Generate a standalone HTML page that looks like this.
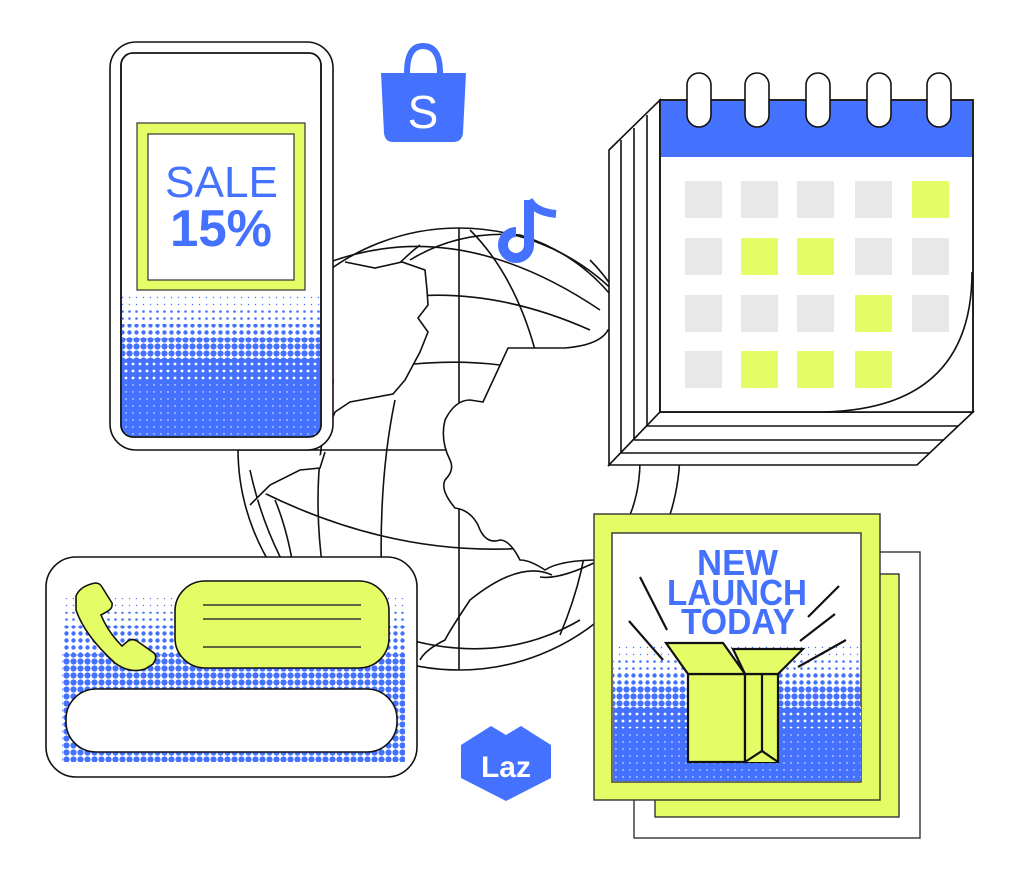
<!DOCTYPE html>
<html><head><meta charset="utf-8"><style>
html,body{margin:0;padding:0;background:#fff;width:1020px;height:880px;overflow:hidden}
svg{display:block}
text{font-family:"Liberation Sans",sans-serif;font-weight:bold;fill:#4472FF}
</style></head><body>
<svg width="1020" height="880" viewBox="0 0 1020 880" xmlns="http://www.w3.org/2000/svg">
<defs>
<pattern id="d1" width="7" height="7" patternUnits="userSpaceOnUse"><circle cx="3.5" cy="3.5" r="0.7" fill="#4472FF"/></pattern>
<pattern id="d2" width="7" height="7" patternUnits="userSpaceOnUse"><circle cx="3.5" cy="3.5" r="1.3" fill="#4472FF"/></pattern>
<pattern id="d3" width="7" height="7" patternUnits="userSpaceOnUse"><circle cx="3.5" cy="3.5" r="2.2" fill="#4472FF"/></pattern>
<pattern id="d4" width="7" height="7" patternUnits="userSpaceOnUse"><circle cx="3.5" cy="3.5" r="3.1" fill="#4472FF"/></pattern>
<pattern id="d5" width="7" height="7" patternUnits="userSpaceOnUse"><rect width="7" height="7" fill="#4472FF"/><circle cx="0" cy="0" r="1.4" fill="#fff"/><circle cx="7" cy="0" r="1.4" fill="#fff"/><circle cx="0" cy="7" r="1.4" fill="#fff"/><circle cx="7" cy="7" r="1.4" fill="#fff"/></pattern>
<pattern id="d6" width="7" height="7" patternUnits="userSpaceOnUse"><rect width="7" height="7" fill="#4472FF"/><circle cx="0" cy="0" r="0.7" fill="#fff"/><circle cx="7" cy="7" r="0.7" fill="#fff"/><circle cx="7" cy="0" r="0.7" fill="#fff"/><circle cx="0" cy="7" r="0.7" fill="#fff"/></pattern>
<clipPath id="phoneClip"><rect x="121" y="53" width="200" height="384" rx="12"/></clipPath>
</defs>
<g stroke="#111" stroke-width="1.6" fill="none">
<!-- Globe -->
<circle cx="459" cy="449" r="221" fill="#fff"/>
<line x1="459" y1="228" x2="459" y2="670"/>
<path d="M238 450 H680"/>
<path d="M330 262 Q459 215 600 310"/>
<path d="M410 260 Q459 230 520 235 Q600 260 640 340"/>
<path d="M415 296 Q500 290 590 330"/>
<path d="M414 364 Q460 360 500 365"/>
<path d="M262 492 Q460 590 660 520"/>
<path d="M300 590 Q460 690 580 620"/>
<path d="M345 670 Q300 520 330 400 Q350 300 420 245"/>
<path d="M390 690 Q370 520 395 400"/>
<path d="M535 560 Q560 480 540 370 Q520 280 470 230"/>
<path d="M560 635 Q600 540 585 460"/>
<path d="M640 340 Q620 290 590 260"/>
<path d="M275 500 Q300 560 300 660"/>
<path d="M250 470 Q265 540 305 600"/>
<path d="M345 262 L375 268 L402 262 L425 270 L427 290 L428 305 L418 318 L428 332 L420 352 L405 380 L393 394 L350 402 L335 412 L330 424" fill="#fff"/>
<path d="M325 452 L320 468 L300 470 L270 485 L250 505" fill="#fff"/>
<path d="M508 348 L565 348 Q600 345 608 330 L640 340 L640 460 Q640 520 600 560 Q560 560 545 570 Q530 560 520 560 Q510 540 500 540 Q485 545 478 525 Q470 510 455 508 Q440 490 445 480 Q455 470 450 460 Q440 440 445 420 Q455 400 470 400 L483 402 Z" fill="#fff"/>
<path d="M552 575 Q520 560 470 600 Q450 630 445 640 Q425 650 420 660" />
<path d="M600 560 Q560 580 540 577"/>
</g>

<!-- Phone -->
<rect x="110" y="42" width="223" height="408" rx="26" fill="#fff" stroke="#111" stroke-width="1.6"/>
<rect x="121" y="53" width="200" height="384" rx="12" fill="#fff" stroke="#111" stroke-width="1.6"/>
<g clip-path="url(#phoneClip)">
<rect x="121" y="296" width="200" height="14" fill="url(#d1)"/>
<rect x="121" y="310" width="200" height="14" fill="url(#d2)"/>
<rect x="121" y="324" width="200" height="14" fill="url(#d3)"/>
<rect x="121" y="338" width="200" height="21" fill="url(#d4)"/>
<rect x="121" y="359" width="200" height="21" fill="url(#d5)"/>
<rect x="121" y="380" width="200" height="57" fill="url(#d6)"/>
</g>
<rect x="121" y="53" width="200" height="384" rx="12" fill="none" stroke="#111" stroke-width="1.6"/>
<rect x="137" y="123" width="168" height="167" fill="#E4FC66" stroke="#333" stroke-width="1.2"/>
<rect x="148" y="134" width="146" height="146" fill="#fff" stroke="#333" stroke-width="1.2"/>
<text x="165" y="197" font-size="44" textLength="113" lengthAdjust="spacingAndGlyphs" style="font-weight:normal">SALE</text>
<text x="170" y="246" font-size="52" textLength="102" lengthAdjust="spacingAndGlyphs">15%</text>

<!-- Shopee -->
<path d="M407 73 Q407 46 423 46 Q440 46 440 73" fill="none" stroke="#4472FF" stroke-width="6"/>
<path d="M381 73 H466 L463 133 Q462 142 453 142 H393 Q385 142 384 133 Z" fill="#4472FF"/>
<text x="423" y="128" font-size="46" fill="#fff" text-anchor="middle" style="fill:#fff;font-weight:normal">S</text>
<!-- TikTok -->
<path d="M529 200 V245 A13 13 0 1 1 516 232" fill="none" stroke="#4472FF" stroke-width="10"/>
<path d="M529 200 Q535 212 556 214" fill="none" stroke="#4472FF" stroke-width="8"/>
<!-- Laz -->
<path d="M461 745 L491 726 L506 735 L521 726 L551 745 V778 L506 801 L461 778 Z" fill="#4472FF"/>
<text x="506" y="777" font-size="30" text-anchor="middle" style="fill:#fff">Laz</text>

<!-- Calendar -->
<g stroke="#111" stroke-width="1.6" fill="#fff">
<path d="M609 150 L660 100 L660 412 L609 465 Z"/>
<path d="M609 465 L660 412 H973 L917 465 Z"/>
<line x1="621" y1="140" x2="621" y2="453"/>
<line x1="634" y1="128" x2="634" y2="440"/>
<line x1="647" y1="115" x2="647" y2="426"/>
<line x1="621" y1="453" x2="930" y2="453"/>
<line x1="634" y1="440" x2="944" y2="440"/>
<line x1="647" y1="426" x2="958" y2="426"/>
<rect x="660" y="100" width="313" height="312"/>
</g>
<rect x="661" y="101" width="311" height="56" fill="#4472FF"/>
<g fill="#E8E8E8">
<rect x="685" y="181" width="37" height="37"/><rect x="741" y="181" width="37" height="37"/><rect x="797" y="181" width="37" height="37"/><rect x="855" y="181" width="37" height="37"/>
<rect x="685" y="238" width="37" height="37"/><rect x="855" y="238" width="37" height="37"/><rect x="912" y="238" width="37" height="37"/>
<rect x="685" y="295" width="37" height="37"/><rect x="741" y="295" width="37" height="37"/><rect x="797" y="295" width="37" height="37"/><rect x="912" y="295" width="37" height="37"/>
<rect x="685" y="351" width="37" height="37"/>
</g>
<g fill="#E4FC66">
<rect x="912" y="181" width="37" height="37"/>
<rect x="741" y="238" width="37" height="37"/><rect x="797" y="238" width="37" height="37"/>
<rect x="855" y="295" width="37" height="37"/>
<rect x="741" y="351" width="37" height="37"/><rect x="797" y="351" width="37" height="37"/><rect x="855" y="351" width="37" height="37"/>
</g>
<path d="M972 272 Q972 408 825 412 L972 412 Z" fill="#fff" stroke="none"/>
<path d="M972 272 Q972 408 825 412" fill="none" stroke="#111" stroke-width="1.6"/>
<rect x="660" y="100" width="313" height="312" fill="none" stroke="#111" stroke-width="1.6"/>
<g fill="#fff" stroke="#111" stroke-width="1.6">
<rect x="687" y="73" width="24" height="54" rx="12"/>
<rect x="745" y="73" width="24" height="54" rx="12"/>
<rect x="806" y="73" width="24" height="54" rx="12"/>
<rect x="867" y="73" width="24" height="54" rx="12"/>
<rect x="927" y="73" width="24" height="54" rx="12"/>
</g>

<!-- New Launch card -->
<rect x="634" y="552" width="286" height="286" fill="#fff" stroke="#333" stroke-width="1.4"/>
<rect x="655" y="574" width="244" height="243" fill="#E4FC66" stroke="#333" stroke-width="1.4"/>
<rect x="594" y="514" width="286" height="286" fill="#E4FC66" stroke="#333" stroke-width="1.4"/>
<rect x="612" y="533" width="249" height="249" fill="#fff" stroke="#333" stroke-width="1.4"/>
<rect x="613" y="644" width="248" height="14" fill="url(#d1)"/>
<rect x="613" y="658" width="248" height="14" fill="url(#d2)"/>
<rect x="613" y="672" width="248" height="14" fill="url(#d3)"/>
<rect x="613" y="686" width="248" height="21" fill="url(#d4)"/>
<rect x="613" y="707" width="248" height="21" fill="url(#d5)"/>
<rect x="613" y="728" width="248" height="53" fill="url(#d6)"/>
<text x="697" y="575" font-size="36" textLength="81" lengthAdjust="spacingAndGlyphs">NEW</text>
<text x="667" y="605" font-size="36" textLength="140" lengthAdjust="spacingAndGlyphs">LAUNCH</text>
<text x="681" y="634" font-size="36" textLength="114" lengthAdjust="spacingAndGlyphs">TODAY</text>
<g stroke="#111" stroke-width="2.2" fill="#E4FC66" stroke-linejoin="miter">
<line x1="640" y1="577" x2="667" y2="630"/>
<line x1="629" y1="621" x2="663" y2="660"/>
<line x1="839" y1="586" x2="808" y2="617"/>
<line x1="835" y1="614" x2="800" y2="641"/>
<line x1="846" y1="640" x2="798" y2="667"/>
<path d="M688 674 H745 V762 H688 Z"/>
<path d="M745 674 H778 V762 H745 Z"/>
<line x1="762" y1="674" x2="762" y2="751"/>
<path d="M745 762 L762 751 L778 762"/>
<path d="M688 674 L666 643 H723 L745 674 Z"/>
<path d="M745 674 L733 649 H803 L778 674 Z"/>
</g>

<!-- Chat card -->
<rect x="46" y="557" width="371" height="220" rx="30" fill="#fff" stroke="#111" stroke-width="1.6"/>
<rect x="62" y="598" width="343" height="14" fill="url(#d1)"/>
<rect x="62" y="612" width="343" height="14" fill="url(#d2)"/>
<rect x="62" y="626" width="343" height="28" fill="url(#d3)"/>
<rect x="62" y="654" width="343" height="108" fill="url(#d4)"/>
<rect x="175" y="581" width="214" height="87" rx="30" fill="#E4FC66" stroke="#111" stroke-width="1.6"/>
<g stroke="#333" stroke-width="1.4"><line x1="203" y1="605" x2="361" y2="605"/><line x1="203" y1="619" x2="361" y2="619"/><line x1="203" y1="647" x2="361" y2="647"/></g>
<rect x="66" y="689" width="331" height="63" rx="30" fill="#fff" stroke="#111" stroke-width="1.6"/>
<path d="M76 596 Q80 586 95 583 Q100 583 102 587 L112 603 Q113 608 108 611 L101 615 Q108 632 122 646 L128 641 Q132 638 137 641 L154 653 Q158 657 153 664 L145 669 Q130 674 115 663 Q85 636 76 610 Z" fill="#E4FC66" stroke="#111" stroke-width="1.6"/>
</svg>
</body></html>
